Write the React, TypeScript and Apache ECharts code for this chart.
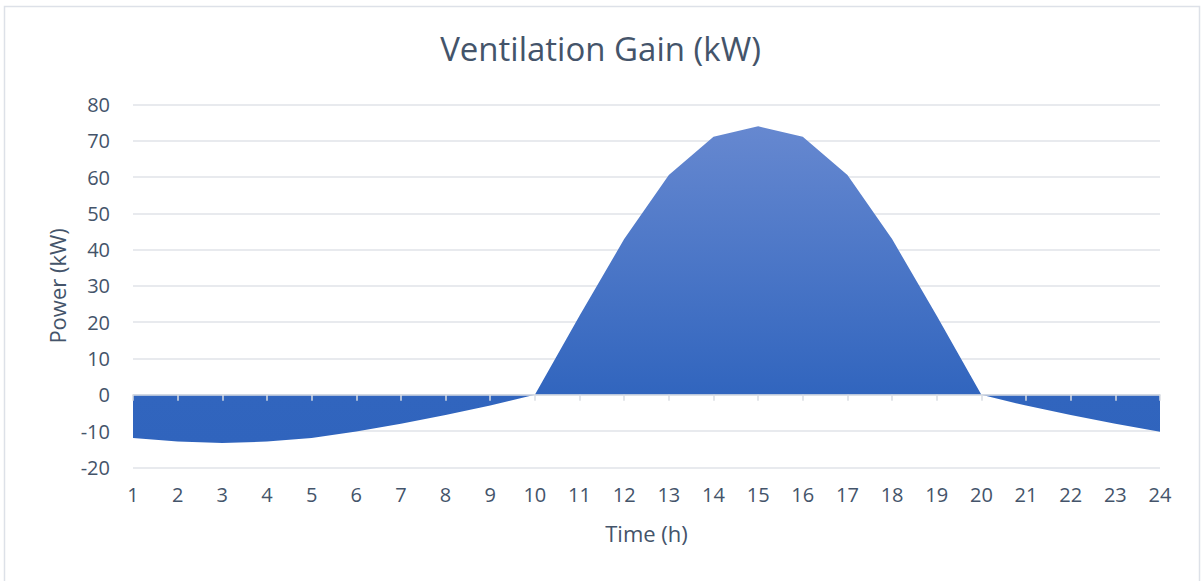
import React, { useEffect, useRef } from "react";
import * as echarts from "echarts";

const hours = ["1","2","3","4","5","6","7","8","9","10","11","12","13","14","15","16","17","18","19","20","21","22","23","24"];
const ventilationGain = [-11.9, -12.9, -13.3, -12.9, -11.9, -10.1, -8.0, -5.6, -3.0, 0, 21.8, 42.9, 60.6, 71.1, 74.0, 71.1, 60.6, 42.9, 21.8, 0, -3.0, -5.6, -8.0, -10.2];
const yMin = -20;
const yMax = 80;
const yStep = 10;

const TEXT = "#44546a";
const FONT = "'Open Sans', 'Noto Sans', sans-serif";

export default function App() {
  const ref = useRef<HTMLDivElement>(null);
  useEffect(() => {
    if (!ref.current) return;
    const chart = echarts.init(ref.current, undefined, { renderer: "svg" });
    chart.setOption({
      animation: false,
      backgroundColor: "#ffffff",
      textStyle: { fontFamily: FONT },
      title: {
        text: "Ventilation Gain (kW)",
        left: "center",
        top: 32,
        padding: 0,
        textStyle: { color: TEXT, fontSize: 33, fontWeight: "normal", fontFamily: FONT },
      },
      graphic: [
        {
          type: "rect",
          shape: { x: 4.5, y: 6.5, width: 1195, height: 600 },
          style: { fill: "none", stroke: "#dde1e8", lineWidth: 1.5 },
          silent: true,
        },
      ],
      grid: { left: 133, right: 41, top: 104.5, bottom: 113.7, containLabel: false, outerBoundsMode: "none" },
      xAxis: {
        type: "category",
        data: hours,
        boundaryGap: false,
        z: 5,
        axisLine: { onZero: true, lineStyle: { color: "#d9dde3", width: 1.5 } },
        axisTick: { show: true, length: 6, alignWithLabel: true, lineStyle: { color: "#d9dde3", width: 1.5 } },
        axisLabel: { color: TEXT, fontSize: 20, margin: 17, fontFamily: FONT },
        name: "Time (h)",
        nameLocation: "middle",
        nameGap: 55,
        nameTextStyle: { color: TEXT, fontSize: 22, fontFamily: FONT },
        splitLine: { show: false },
      },
      yAxis: {
        type: "value",
        min: yMin,
        max: yMax,
        interval: yStep,
        axisLine: { show: false },
        axisTick: { show: false },
        axisLabel: { color: TEXT, fontSize: 20, margin: 23, fontFamily: FONT },
        splitLine: { lineStyle: { color: "#e0e3e9", width: 1.5 } },
        name: "Power (kW)",
        nameLocation: "middle",
        nameGap: 65,
        nameRotate: 90,
        nameTextStyle: { color: TEXT, fontSize: 22, fontFamily: FONT },
      },
      series: [
        {
          type: "line",
          data: ventilationGain,
          symbol: "none",
          smooth: false,
          lineStyle: { width: 0 },
          areaStyle: {
            opacity: 1,
            color: new echarts.graphic.LinearGradient(0, 0, 0, 1, [
              { offset: 0, color: "#6688d0" },
              { offset: 0.85, color: "#3165be" },
              { offset: 1, color: "#3064bd" },
            ]),
          },
        },
      ],
    });
    return () => chart.dispose();
  }, []);
  return (
    <div
      ref={ref}
      style={{ position: "absolute", left: 0, top: 0, width: 1201, height: 581 }}
    />
  );
}
